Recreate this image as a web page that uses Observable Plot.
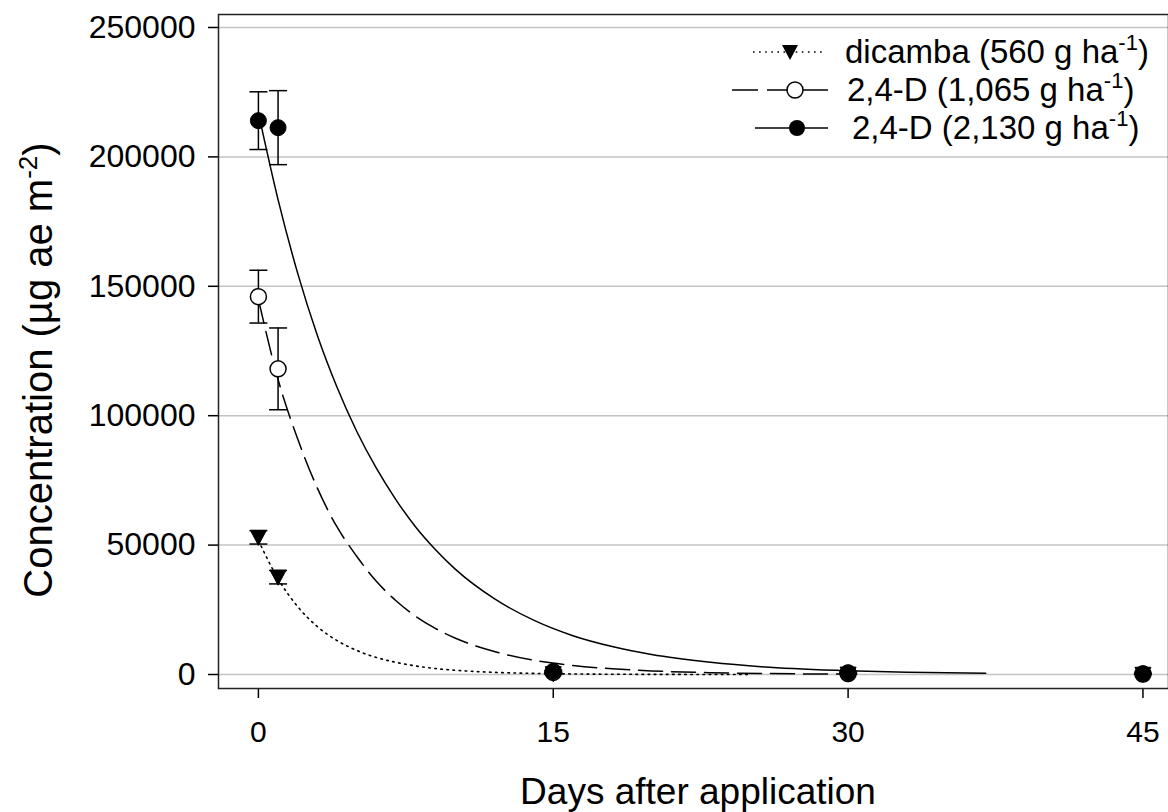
<!DOCTYPE html>
<html>
<head>
<meta charset="utf-8">
<script src="https://cdn.jsdelivr.net/npm/d3@7"></script>
<script src="https://cdn.jsdelivr.net/npm/@observablehq/plot@0.6"></script>
<style>
html, body { margin: 0; padding: 0; background: #fff; }
#chart { width: 1168px; height: 812px; }
</style>
</head>
<body>
<div id="chart"></div>
<script>
// ---------- data ----------
const days = [0, 1, 15, 30, 45];

const dicambaMean = [53000, 37600, 300, 150, 80];
const dicambaErr  = [2600, 2600, 200, 100, 50];

const d1065Mean = [146000, 118100, 800, 400, 200];
const d1065Err  = [10200, 15800, 300, 200, 100];

const d2130Mean = [214000, 211300, 1200, 700, 300];
const d2130Err  = [11150, 14300, 400, 300, 150];

// fitted decay curves
const fitDicambaDays = [0, 1, 2, 3, 4, 5, 6, 7, 8, 9, 10, 12, 14, 16, 18, 20, 25];
const fitDicambaConc = [51800, 37000, 26200, 18500, 13100, 9300, 6600, 4700, 3300, 2300, 1650, 830, 420, 210, 100, 50, 10];

const fit1065Days = [0, 1, 2, 3, 4, 5, 6, 7, 8, 9, 10, 12, 14, 16, 18, 20, 23, 26, 30];
const fit1065Conc = [145000, 114000, 91000, 72000, 57000, 45700, 36000, 28500, 22500, 17800, 14100, 8900, 5500, 3500, 2200, 1400, 700, 350, 150];

const fit2130Days = [0, 1, 2, 3, 4, 5, 6, 7, 8, 9, 10, 12, 14, 16, 18, 20, 23, 26, 30, 33, 37];
const fit2130Conc = [217000, 183500, 155000, 131000, 111000, 94000, 79700, 67500, 57000, 48300, 40800, 29300, 21000, 15000, 10800, 7700, 4700, 2800, 1450, 900, 450];

const xTicks = [0, 15, 30, 45];
const yTicks = [0, 50000, 100000, 150000, 200000, 250000];

const legendLabels = ["dicamba (560 g ha", "2,4-D (1,065 g ha", "2,4-D (2,130 g ha"];
const xLabel = "Days after application";
const yLabel = "Concentration (µg ae m";

// ---------- tables ----------
const obs = (mean, err) => days.map((d, i) => ({day: d, y: mean[i], lo: mean[i] - err[i], hi: mean[i] + err[i]}));
const obsDicamba = obs(dicambaMean, dicambaErr);
const obs1065 = obs(d1065Mean, d1065Err);
const obs2130 = obs(d2130Mean, d2130Err);
const allObs = [...obs1065, ...obs2130, ...obsDicamba];

const fit = (ds, cs) => ds.map((d, i) => ({day: d, y: cs[i]}));

// custom symbols
const capSymbol = {draw(ctx) { ctx.moveTo(-9, 0); ctx.lineTo(9, 0); }};
const triDown = {draw(ctx) { ctx.moveTo(-8, -7); ctx.lineTo(8, -7); ctx.lineTo(0, 8); ctx.closePath(); }};

const FONT = "'Liberation Sans', Arial, sans-serif";

const chart = Plot.plot({
  width: 1168,
  height: 812,
  marginLeft: 218,
  marginRight: 0,
  marginTop: 14,
  marginBottom: 124,
  style: {fontFamily: FONT, fontSize: "30px", background: "white", color: "black"},
  x: {domain: [-2.03, 46.3]},
  y: {domain: [-5410, 255020]},
  marks: [
    Plot.ruleY(yTicks, {stroke: "#c4c4c4", strokeWidth: 1.5}),
    Plot.line(fit(fitDicambaDays, fitDicambaConc), {x: "day", y: "y", curve: "monotone-x", stroke: "black", strokeWidth: 1.6, strokeDasharray: "1.6 4.5"}),
    Plot.line(fit(fit1065Days, fit1065Conc), {x: "day", y: "y", curve: "monotone-x", stroke: "black", strokeWidth: 1.5, strokeDasharray: "24 9"}),
    Plot.line(fit(fit2130Days, fit2130Conc), {x: "day", y: "y", curve: "monotone-x", stroke: "black", strokeWidth: 1.5}),
    Plot.ruleX(allObs, {x: "day", y1: "lo", y2: "hi", stroke: "black", strokeWidth: 1.5}),
    Plot.dot(allObs, {x: "day", y: "lo", symbol: capSymbol, stroke: "black", strokeWidth: 1.5}),
    Plot.dot(allObs, {x: "day", y: "hi", symbol: capSymbol, stroke: "black", strokeWidth: 1.5}),
    Plot.dot(obs1065, {x: "day", y: "y", r: 8, fill: "white", stroke: "black", strokeWidth: 1.5}),
    Plot.dot(obs2130, {x: "day", y: "y", r: 8, fill: "black", stroke: "black", strokeWidth: 1}),
    Plot.dot(obsDicamba, {x: "day", y: "y", symbol: triDown, fill: "black", stroke: "black", strokeWidth: 1}),
    Plot.axisY({ticks: yTicks, tickSize: 10, tickPadding: 13, fontSize: 32, strokeWidth: 1.5, tickFormat: d3.format("d"), label: null}),
    Plot.axisX({ticks: xTicks, tickSize: 10, tickPadding: 22, fontSize: 30, strokeWidth: 1.5, tickFormat: d3.format("d"), label: null}),
    Plot.frame({stroke: "#222", strokeWidth: 1.5})
  ]
});

document.getElementById("chart").appendChild(chart);

// ---------- axis titles and legend (plain SVG text) ----------
const svg = d3.select(chart);

svg.append("text")
  .attr("x", 698).attr("y", 804)
  .attr("text-anchor", "middle")
  .style("font-family", FONT).style("font-size", "37px").attr("fill", "black")
  .text(xLabel);

const yl = svg.append("text")
  .attr("transform", "translate(52,370) rotate(-90)")
  .attr("text-anchor", "middle")
  .style("font-family", FONT).style("font-size", "40px").attr("fill", "black");
yl.append("tspan").text(yLabel);
yl.append("tspan").attr("dy", -15).style("font-size", "26px").text("-2");
yl.append("tspan").attr("dy", 15).text(")");

const leg = svg.append("g").attr("fill", "black");
const rowY = [52, 90, 128];
const textX = [845, 847, 852];

// dicamba row
leg.append("line").attr("x1", 753).attr("x2", 826).attr("y1", rowY[0]).attr("y2", rowY[0])
  .attr("stroke", "black").attr("stroke-width", 1.6).attr("stroke-dasharray", "1.6 4.5");
leg.append("path").attr("d", d3.symbol(triDown)()).attr("transform", `translate(790,${rowY[0]})`).attr("fill", "black");
// 1065 row
leg.append("line").attr("x1", 732).attr("x2", 828).attr("y1", rowY[1]).attr("y2", rowY[1])
  .attr("stroke", "black").attr("stroke-width", 1.5).attr("stroke-dasharray", "26 9 200");
leg.append("circle").attr("cx", 795).attr("cy", rowY[1]).attr("r", 8).attr("fill", "white").attr("stroke", "black").attr("stroke-width", 1.5);
// 2130 row
leg.append("line").attr("x1", 755).attr("x2", 828).attr("y1", rowY[2]).attr("y2", rowY[2])
  .attr("stroke", "black").attr("stroke-width", 1.5);
leg.append("circle").attr("cx", 797).attr("cy", rowY[2]).attr("r", 8).attr("fill", "black");

legendLabels.forEach((lab, i) => {
  const t = leg.append("text").attr("x", textX[i]).attr("y", rowY[i] + 11)
    .attr("text-anchor", "start")
    .style("font-family", FONT).style("font-size", "33px");
  t.append("tspan").text(lab);
  t.append("tspan").attr("dy", -13).style("font-size", "22px").text("-1");
  t.append("tspan").attr("dy", 13).text(")");
});
</script>
</body>
</html>
